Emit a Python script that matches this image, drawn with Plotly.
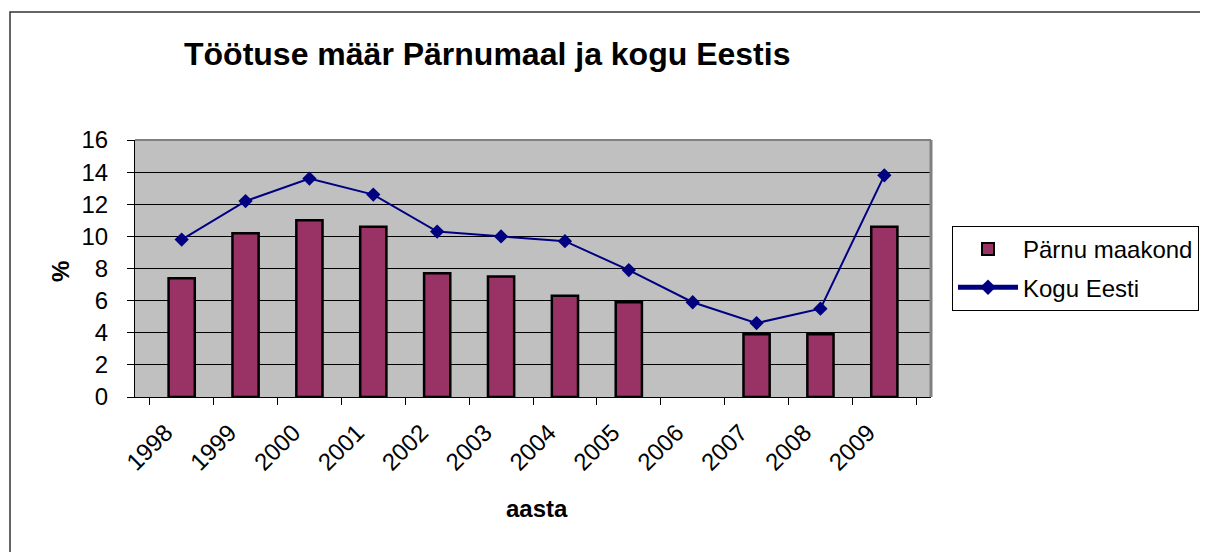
import plotly.graph_objects as go

years = ["1998", "1999", "2000", "2001", "2002", "2003", "2004", "2005", "2006", "2007", "2008", "2009"]
parnu = [7.4, 10.2, 11.0, 10.6, 7.7, 7.5, 6.3, 5.9, None, 3.9, 3.9, 10.6]
eesti = [9.8, 12.2, 13.6, 12.6, 10.3, 10.0, 9.7, 7.9, 5.9, 4.6, 5.5, 13.8]

OFF = 8  # page body margin
W, H = 1200, 544
L, R, T, B = 135 - OFF, 931 - OFF, 140 - OFF, 397 - OFF
font = "Liberation Sans, Arial, sans-serif"

fig = go.Figure()
fig.add_trace(go.Bar(
    x=years, y=parnu, name="Pärnu maakond", legendgroup="a",
    marker=dict(color="#993366", line=dict(color="black", width=2.5)),
    width=0.41,
))
fig.add_trace(go.Scatter(
    x=years, y=eesti, name="Kogu Eesti", mode="lines+markers", legendgroup="b",
    line=dict(color="#000080", width=2),
    marker=dict(symbol="diamond", size=11, color="#000080"),
))

def px(x):
    return (x - OFF - L) / (R - L)

def py(y):
    return (B - (y - OFF)) / (B - T)

fig.update_layout(
    width=W, height=H,
    margin=dict(l=L, r=W - R, t=T, b=H - B, pad=0, autoexpand=False),
    paper_bgcolor="white",
    plot_bgcolor="#C0C0C0",
    font=dict(family=font, size=24, color="black"),
    showlegend=True,
    legend=dict(
        x=px(952), y=py(226), xanchor="left", yanchor="top",
        bgcolor="white", bordercolor="black", borderwidth=1,
        font=dict(size=24), itemsizing="constant", tracegroupgap=4,
        itemwidth=60,
    ),
    xaxis=dict(
        type="category", tickson="boundaries", ticks="outside", ticklen=7,
        tickcolor="black", tickwidth=1, showline=True, linecolor="black",
        linewidth=1, showgrid=False, tickangle=-45, ticklabelstandoff=11,
        ticklabelshift=-16, tickfont=dict(size=24),
    ),
    yaxis=dict(
        range=[0, 16], dtick=2, ticks="outside", ticklen=7, tickcolor="black",
        showline=True, linecolor="black", linewidth=1, showgrid=True,
        gridcolor="black", gridwidth=1, zeroline=False, ticklabelstandoff=14,
        tickfont=dict(size=24),
    ),
    bargap=0.59,
)

# plot area gray border (top/right)
fig.add_shape(type="line", xref="paper", yref="paper", x0=0, x1=1, y0=1, y1=1,
              line=dict(color="#808080", width=2))
fig.add_shape(type="line", xref="paper", yref="paper", x0=1, x1=1, y0=0, y1=1,
              line=dict(color="#808080", width=3))
# outer chart border (cut off at right and bottom of the page)
fig.add_shape(type="rect", xref="paper", yref="paper",
              x0=px(10), x1=px(1230), y0=py(580), y1=py(12),
              line=dict(color="#333333", width=1.5), layer="below")

fig.add_annotation(text="<b>Töötuse määr Pärnumaal ja kogu Eestis</b>",
                   xref="paper", yref="paper", x=px(487), y=py(54),
                   showarrow=False, font=dict(size=32), xanchor="center", yanchor="middle")
fig.add_annotation(text="<b>aasta</b>", xref="paper", yref="paper",
                   x=px(537), y=py(508), showarrow=False, font=dict(size=24),
                   xanchor="center", yanchor="middle")
fig.add_annotation(text="<b>%</b>", xref="paper", yref="paper",
                   x=px(60), y=py(272), showarrow=False, font=dict(size=24),
                   textangle=-90, xanchor="center", yanchor="middle")

fig.write_html("out.html")
